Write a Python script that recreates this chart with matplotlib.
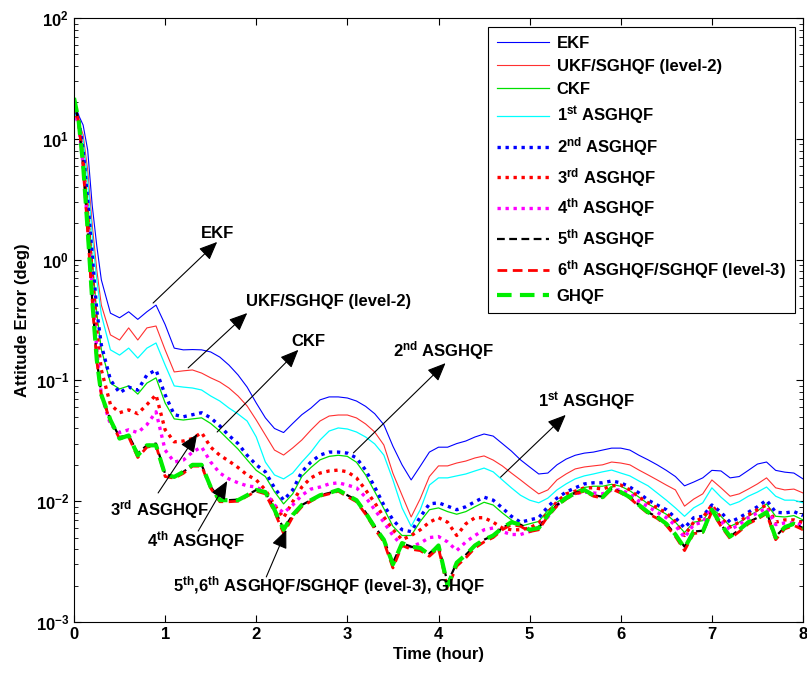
import numpy as np
import matplotlib
matplotlib.use("Agg")
from matplotlib import pyplot as plt

plt.rcParams['font.family'] = ['Liberation Sans', 'DejaVu Sans']
plt.rcParams['font.weight'] = 'bold'
plt.rcParams['axes.labelweight'] = 'bold'
plt.rcParams['font.size'] = 12
plt.rcParams['mathtext.fontset'] = 'custom'
plt.rcParams['mathtext.rm'] = 'Liberation Sans:bold'
plt.rcParams['mathtext.bf'] = 'Liberation Sans:bold'
plt.rcParams['mathtext.default'] = 'bf'

# sample times (hour)
t_start = [0, 0.05, 0.1, 0.15, 0.2, 0.25]
t = np.round(np.concatenate([t_start, np.arange(0.3, 8.001, 0.1)]), 2)

# attitude error (deg)
ekf = [17.3, 15.7, 13.0, 8.1, 2.8, 1.3, 0.68,
       0.36, 0.33, 0.37, 0.32, 0.37, 0.42, 0.29, 0.185, 0.179, 0.18,
       0.179, 0.172, 0.156, 0.134, 0.111, 0.088, 0.065, 0.049, 0.040, 0.037,
       0.044, 0.052, 0.059, 0.069, 0.073, 0.073, 0.0715, 0.0675, 0.061, 0.053,
       0.043, 0.0285, 0.020, 0.015, 0.0195, 0.0255, 0.028, 0.028, 0.030, 0.0315,
       0.034, 0.036, 0.0346, 0.030, 0.026, 0.022, 0.0192, 0.0168, 0.0171, 0.020,
       0.0223, 0.024, 0.025, 0.0255, 0.0265, 0.0275, 0.0275, 0.0265, 0.024, 0.022,
       0.020, 0.018, 0.016, 0.0134, 0.0144, 0.0156, 0.018, 0.0178, 0.0156, 0.016,
       0.018, 0.0203, 0.0211, 0.018, 0.0174, 0.0171, 0.0153]
ukf = [15.2, 13.8, 10.8, 5.5, 1.93, 0.82, 0.42,
       0.238, 0.216, 0.272, 0.216, 0.272, 0.282, 0.179, 0.1175, 0.12, 0.122,
       0.115, 0.105, 0.097, 0.0865, 0.0743, 0.0614, 0.047, 0.0353, 0.0265, 0.0241,
       0.0276, 0.0321, 0.0388, 0.0461, 0.0507, 0.0517, 0.0517, 0.0489, 0.0436, 0.0374,
       0.0292, 0.017, 0.0112, 0.0074, 0.0105, 0.0160, 0.0196, 0.0196, 0.0207, 0.0215,
       0.0228, 0.0237, 0.0219, 0.0196, 0.0171, 0.0150, 0.0131, 0.0115, 0.0124, 0.0150,
       0.0168, 0.0185, 0.0192, 0.0196, 0.0200, 0.0211, 0.0207, 0.0200, 0.0181, 0.0165,
       0.0150, 0.0136, 0.0124, 0.0091, 0.0104, 0.0115, 0.0150, 0.0129, 0.0110, 0.0115,
       0.0126, 0.0139, 0.0156, 0.0129, 0.0124, 0.0126, 0.0117]
ckf = [18.0, 14.0, 7.5, 2.9, 1.0, 0.36, 0.18,
       0.095, 0.085, 0.090, 0.077, 0.095, 0.105, 0.065, 0.048, 0.047, 0.048,
       0.049, 0.044, 0.038, 0.032, 0.027, 0.022, 0.018, 0.016, 0.0120, 0.0095,
       0.0115, 0.016, 0.019, 0.022, 0.0235, 0.024, 0.0235, 0.021, 0.0165, 0.012,
       0.0087, 0.0062, 0.0052, 0.0052, 0.0068, 0.0085, 0.0088, 0.0082, 0.0078, 0.0082,
       0.0090, 0.0098, 0.0093, 0.0080, 0.0070, 0.0062, 0.0065, 0.0068, 0.0084, 0.0098,
       0.0110, 0.0120, 0.0130, 0.0133, 0.0133, 0.0138, 0.0133, 0.0122, 0.0108, 0.0095,
       0.0086, 0.0078, 0.0067, 0.0055, 0.0067, 0.0069, 0.0088, 0.0075, 0.0062, 0.0067,
       0.0075, 0.0083, 0.0095, 0.0075, 0.0074, 0.0076, 0.0070]
asghqf1 = [16.4, 14.3, 9.8, 4.6, 1.6, 0.68, 0.35,
           0.179, 0.162, 0.185, 0.153, 0.185, 0.204, 0.134, 0.090, 0.088, 0.0865,
           0.0833, 0.0743, 0.0675, 0.0591, 0.0527, 0.0461, 0.034, 0.0211, 0.0165, 0.0153,
           0.0171, 0.0211, 0.0255, 0.0321, 0.0381, 0.0404, 0.0396, 0.0374, 0.034, 0.0298,
           0.0241, 0.0150, 0.0088, 0.0062, 0.0085, 0.0136, 0.0156, 0.0156, 0.0162, 0.0168,
           0.0178, 0.0188, 0.0175, 0.0150, 0.0129, 0.0112, 0.0102, 0.0097, 0.0106, 0.0124,
           0.0139, 0.0153, 0.0162, 0.0168, 0.0175, 0.0181, 0.0171, 0.0162, 0.0147, 0.0134,
           0.0117, 0.0102, 0.0088, 0.0075, 0.0088, 0.0097, 0.0129, 0.0108, 0.0093, 0.0099,
           0.0110, 0.0119, 0.0131, 0.0110, 0.0102, 0.0102, 0.0097]
asghqf2 = [19.0, 14.9, 8.1, 3.1, 1.09, 0.38, 0.196,
           0.101, 0.079, 0.088, 0.083, 0.111, 0.122, 0.076, 0.052, 0.050, 0.052,
           0.054, 0.049, 0.042, 0.035, 0.030, 0.024, 0.020, 0.0175, 0.0129, 0.0102,
           0.0124, 0.0175, 0.0211, 0.0241, 0.0255, 0.0255, 0.025, 0.0228, 0.0181, 0.0131,
           0.0093, 0.0070, 0.0058, 0.0056, 0.0074, 0.0095, 0.0097, 0.0091, 0.0085, 0.0090,
           0.0099, 0.0108, 0.0102, 0.0088, 0.0075, 0.0067, 0.0070, 0.0073, 0.0090, 0.0106,
           0.0119, 0.0129, 0.0139, 0.0142, 0.0142, 0.0147, 0.0142, 0.0131, 0.0117, 0.0102,
           0.0093, 0.0085, 0.0073, 0.0060, 0.0073, 0.0075, 0.0093, 0.0081, 0.0067, 0.0073,
           0.0081, 0.0090, 0.0102, 0.0081, 0.0080, 0.0082, 0.0076]
asghqf3 = [18.0, 13.8, 6.7, 2.3, 0.75, 0.26, 0.122,
           0.063, 0.054, 0.057, 0.053, 0.063, 0.076, 0.039, 0.031, 0.0315, 0.033,
           0.037, 0.028, 0.024, 0.0215, 0.019, 0.0165, 0.015, 0.0124, 0.0093, 0.0073,
           0.0099, 0.0131, 0.0156, 0.0171, 0.0178, 0.0181, 0.0175, 0.0156, 0.0124, 0.0097,
           0.0074, 0.0058, 0.0048, 0.0052, 0.0058, 0.0067, 0.0073, 0.0067, 0.0052, 0.0065,
           0.0073, 0.0073, 0.0067, 0.0060, 0.0058, 0.0058, 0.0060, 0.0066, 0.0080, 0.0099,
           0.0115, 0.0121, 0.0129, 0.0129, 0.0126, 0.0134, 0.0136, 0.0124, 0.0108, 0.0097,
           0.0088, 0.0080, 0.0067, 0.0052, 0.0067, 0.0073, 0.0093, 0.0073, 0.0061, 0.0067,
           0.0077, 0.0085, 0.0093, 0.0067, 0.0070, 0.0070, 0.0066]
asghqf4 = [17.3, 13.0, 6.1, 1.9, 0.56, 0.18, 0.076,
           0.043, 0.037, 0.039, 0.037, 0.043, 0.055, 0.0265, 0.0211, 0.0219, 0.0255,
           0.0281, 0.0211, 0.0171, 0.0153, 0.0142, 0.0134, 0.0131, 0.0119, 0.0093, 0.0080,
           0.0093, 0.0112, 0.0126, 0.0131, 0.0139, 0.0142, 0.0136, 0.0129, 0.0108, 0.0085,
           0.0067, 0.0052, 0.0043, 0.0042, 0.0045, 0.0050, 0.0051, 0.0046, 0.0039, 0.0046,
           0.0052, 0.0058, 0.0060, 0.0056, 0.0053, 0.0053, 0.0056, 0.0061, 0.0074, 0.0093,
           0.0106, 0.0115, 0.0119, 0.0117, 0.0115, 0.0124, 0.0124, 0.0115, 0.0100, 0.0090,
           0.0081, 0.0073, 0.0063, 0.0050, 0.0064, 0.0067, 0.0088, 0.0068, 0.0058, 0.0064,
           0.0073, 0.0080, 0.0088, 0.0064, 0.0066, 0.0066, 0.0063]
asghqf5 = [21.0, 14.0, 6.0, 1.75, 0.46, 0.148, 0.077,
           0.047, 0.034, 0.035, 0.025, 0.029, 0.030, 0.0168, 0.0160, 0.0175, 0.0198,
           0.0200, 0.0132, 0.0103, 0.0102, 0.0103, 0.0112, 0.0124, 0.0118, 0.0086, 0.0059,
           0.0077, 0.0093, 0.0102, 0.0112, 0.0117, 0.0123, 0.0112, 0.0102, 0.0081, 0.0062,
           0.0048, 0.0031, 0.0045, 0.0042, 0.0041, 0.0037, 0.0043, 0.0021, 0.0031, 0.0036,
           0.0043, 0.0048, 0.0052, 0.0060, 0.0066, 0.0064, 0.0058, 0.0060, 0.0077, 0.0093,
           0.0106, 0.0117, 0.0123, 0.0112, 0.0109, 0.0128, 0.0119, 0.0108, 0.0093, 0.0081,
           0.0074, 0.0065, 0.0053, 0.0042, 0.0056, 0.0057, 0.0084, 0.0064, 0.0051, 0.0058,
           0.0067, 0.0073, 0.0081, 0.0051, 0.0061, 0.0065, 0.0060]
asghqf6 = [20.5, 14.0, 6.0, 1.7, 0.45, 0.145, 0.075,
           0.046, 0.033, 0.034, 0.023, 0.028, 0.029, 0.0160, 0.0155, 0.0170, 0.0195,
           0.0195, 0.0128, 0.0099, 0.0099, 0.0100, 0.0110, 0.0121, 0.0115, 0.0082, 0.0054,
           0.0074, 0.0090, 0.0100, 0.0110, 0.0115, 0.0121, 0.0109, 0.0099, 0.0078, 0.0059,
           0.0046, 0.0028, 0.0043, 0.0040, 0.0039, 0.0035, 0.0041, 0.0019, 0.0029, 0.0034,
           0.0041, 0.0046, 0.0050, 0.0058, 0.0064, 0.0062, 0.0056, 0.0058, 0.0075, 0.0091,
           0.0104, 0.0115, 0.0121, 0.0110, 0.0106, 0.0126, 0.0117, 0.0106, 0.0091, 0.0079,
           0.0072, 0.0063, 0.0051, 0.0039, 0.0054, 0.0055, 0.0082, 0.0062, 0.0049, 0.0056,
           0.0065, 0.0071, 0.0079, 0.0048, 0.0059, 0.0063, 0.0058]
ghqf = [21.8, 14.3, 6.1, 1.76, 0.46, 0.148, 0.076,
        0.047, 0.033, 0.035, 0.024, 0.029, 0.029, 0.0165, 0.0159, 0.0175, 0.0200,
        0.0200, 0.0131, 0.0102, 0.0102, 0.0102, 0.0112, 0.0124, 0.0119, 0.0085, 0.0058,
        0.0077, 0.0093, 0.0102, 0.0112, 0.0117, 0.0124, 0.0112, 0.0102, 0.0080, 0.0061,
        0.0048, 0.0030, 0.0045, 0.0042, 0.0041, 0.0036, 0.0043, 0.0020, 0.0031, 0.0036,
        0.0043, 0.0048, 0.0052, 0.0060, 0.0067, 0.0064, 0.0058, 0.0060, 0.0077, 0.0093,
        0.0106, 0.0117, 0.0124, 0.0112, 0.0108, 0.0129, 0.0119, 0.0108, 0.0093, 0.0081,
        0.0074, 0.0065, 0.0053, 0.0041, 0.0056, 0.0056, 0.0085, 0.0064, 0.0051, 0.0058,
        0.0067, 0.0073, 0.0081, 0.0050, 0.0061, 0.0065, 0.0060]

labels = ['EKF', 'UKF/SGHQF (level-2)', 'CKF', r'1$^{st}$ ASGHQF',
          r'2$^{nd}$ ASGHQF', r'3$^{rd}$ ASGHQF', r'4$^{th}$ ASGHQF',
          r'5$^{th}$ ASGHQF', r'6$^{th}$ ASGHQF/SGHQF (level-3)', 'GHQF']

dot = (0, (1, 1.4))
dash = (0, (3.5, 2))

fig = plt.figure(figsize=(8.07, 6.73), dpi=100)
ax = fig.add_axes([74/807, 51/673, 729/807, 604/673])

ax.plot(t, ekf, color='#0000ff', lw=0.8, label=labels[0])
ax.plot(t, ukf, color='#ff3030', lw=0.8, label=labels[1])
ax.plot(t, ckf, color='#00e000', lw=0.9, label=labels[2])
ax.plot(t, asghqf1, color='#00ffff', lw=0.9, label=labels[3])
ax.plot(t, asghqf2, color='#0000ff', lw=2.4, ls=dot, label=labels[4])
ax.plot(t, asghqf3, color='#ff0000', lw=2.4, ls=dot, label=labels[5])
ax.plot(t, asghqf4, color='#ff00ff', lw=2.4, ls=dot, label=labels[6])
ax.plot(t, asghqf5, color='k', lw=1.6, ls=dash, label=labels[7])
ax.plot(t, asghqf6, color='#ff0000', lw=2.0, ls=dash, label=labels[8])
ax.plot(t, ghqf, color='#00ee00', lw=3.0, ls=dash, label=labels[9])

ax.set_yscale('log')
ax.set_xlim(0, 8)
ax.set_ylim(1e-3, 1e2)
ax.set_xticks(range(9))
ax.tick_params(which='both', direction='in', top=True, right=True, labelsize=12)
ax.tick_params(which='major', length=5)
ax.tick_params(which='minor', length=3)
ax.set_xlabel('Time (hour)', fontsize=12, fontweight='bold', labelpad=4)
ax.set_ylabel('Attitude Error (deg)', fontsize=12, fontweight='bold', labelpad=4)

arrow = dict(arrowstyle='-|>,head_length=0.7,head_width=0.3', color='k', lw=0.8,
             mutation_scale=16, shrinkA=0, shrinkB=0)

ax.annotate('', xy=(1.571, 1.40), xytext=(0.868, 0.437), arrowprops=arrow)
ax.text(1.58, 1.66, 'EKF', ha='center', va='center')
ax.annotate('', xy=(1.901, 0.361), xytext=(1.253, 0.127), arrowprops=arrow)
ax.text(1.89, 0.446, 'UKF/SGHQF (level-2)', ha='left', va='center')
ax.annotate('', xy=(2.462, 0.179), xytext=(1.571, 0.0374), arrowprops=arrow)
ax.text(2.57, 0.208, 'CKF', ha='center', va='center')
ax.annotate('', xy=(4.077, 0.139), xytext=(3.066, 0.0251), arrowprops=arrow)
ax.text(3.505, 0.175, r'2$^{nd}$ ASGHQF', ha='left', va='center')
ax.annotate('', xy=(5.396, 0.0518), xytext=(4.681, 0.0158), arrowprops=arrow)
ax.text(5.09, 0.0662, r'1$^{st}$ ASGHQF', ha='left', va='center')
ax.annotate('', xy=(1.352, 0.036), xytext=(0.923, 0.0117), arrowprops=arrow)
ax.text(0.396, 0.00845, r'3$^{rd}$ ASGHQF', ha='left', va='center')
ax.annotate('', xy=(1.681, 0.0147), xytext=(1.363, 0.00566), arrowprops=arrow)
ax.text(0.802, 0.00469, r'4$^{th}$ ASGHQF', ha='left', va='center')
ax.annotate('', xy=(2.33, 0.00578), xytext=(2.11, 0.00236), arrowprops=arrow)
ax.text(1.088, 0.00199, r'5$^{th}$,6$^{th}$ ASGHQF/SGHQF (level-3), GHQF',
        ha='left', va='center')

leg = ax.legend(loc='upper right', bbox_to_anchor=(795/807, 646/673),
                bbox_transform=fig.transFigure, borderaxespad=0, fancybox=False,
                framealpha=1, edgecolor='k', fontsize=12, handlelength=3.1,
                handletextpad=0.5, labelspacing=0.47, borderpad=0.55)
leg.get_frame().set_linewidth(0.8)

fig.canvas.draw()
for lbl in ax.get_xticklabels() + ax.get_yticklabels():
    lbl.set_fontweight('bold')

fig.savefig('out.png', dpi=100)
